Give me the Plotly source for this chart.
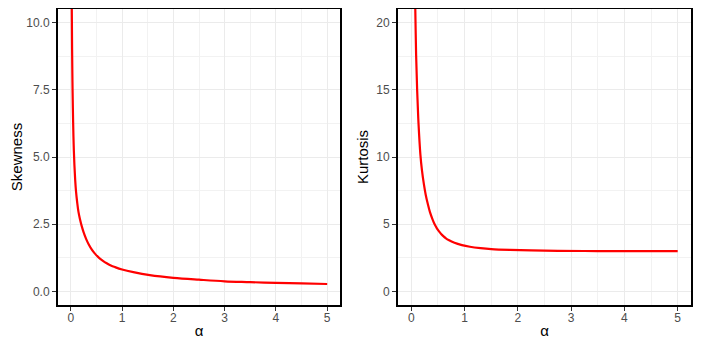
import plotly.graph_objects as go
from plotly.subplots import make_subplots

# values
alpha_skew = [0.01, 0.02, 0.025, 0.03, 0.035, 0.045, 0.055, 0.07, 0.085, 0.1, 0.125, 0.15,
              0.18, 0.21, 0.25, 0.3, 0.35, 0.41, 0.47, 0.54, 0.62, 0.7, 0.78, 0.86, 1.0,
              1.22, 1.54, 2.0, 2.5, 3.0, 3.5, 4.0, 4.5, 5.0]
skewness = [13.0, 10.3, 9.0, 8.1, 7.4, 6.3, 5.5, 4.7, 4.15, 3.75, 3.3, 2.95,
            2.68, 2.45, 2.2, 1.95, 1.75, 1.56, 1.41, 1.27, 1.15, 1.05, 0.97, 0.91, 0.82,
            0.72, 0.61, 0.51, 0.44, 0.38, 0.35, 0.32, 0.30, 0.28]

alpha_kurt = [0.06, 0.075, 0.09, 0.11, 0.135, 0.17, 0.2, 0.235, 0.27, 0.31, 0.35, 0.4,
              0.44, 0.48, 0.52, 0.56, 0.6, 0.65, 0.7, 0.81, 0.95, 1.1, 1.3, 1.5, 1.85,
              2.25, 2.75, 3.5, 4.25, 5.0]
kurtosis = [24.0, 20.9, 17.6, 14.9, 12.5, 10.2, 9.0, 8.0, 7.2, 6.5, 5.9, 5.35,
            4.98, 4.7, 4.47, 4.28, 4.12, 3.96, 3.83, 3.62, 3.45, 3.33, 3.23, 3.16, 3.10,
            3.06, 3.03, 3.01, 3.0, 3.0]

x_ticks = [0, 1, 2, 3, 4, 5]
skew_ticks = [0.0, 2.5, 5.0, 7.5, 10.0]
skew_labels = ["0.0", "2.5", "5.0", "7.5", "10.0"]
kurt_ticks = [0, 5, 10, 15, 20]

# page body has an 8px margin, so the figure starts at (8, 8) in the window
OFF = 8
W, H = 705 - OFF, 347 - OFF
def dx(px):
    return (px - OFF) / W
def dy(py):
    return 1 - (py - OFF) / H

fig = make_subplots(rows=1, cols=2)

fig.add_trace(go.Scatter(x=alpha_skew, y=skewness, mode="lines", line_shape="spline",
                         line=dict(color="#FF0000", width=2.2), showlegend=False), row=1, col=1)
fig.add_trace(go.Scatter(x=alpha_kurt, y=kurtosis, mode="lines", line_shape="spline",
                         line=dict(color="#FF0000", width=2.2), showlegend=False), row=1, col=2)

tickfont = dict(family="Liberation Sans, Arial", size=12, color="#4D4D4D")
titlefont = dict(family="Liberation Sans, Arial", size=15, color="black")

common = dict(showline=True, mirror=True, linecolor="black", linewidth=2,
              showgrid=True, gridcolor="#EBEBEB", gridwidth=1,
              ticks="outside", ticklen=4, tickcolor="#333333", tickwidth=1,
              tickfont=tickfont, zeroline=False, automargin=False)

fig.update_xaxes(range=[-0.25, 5.25], tickvals=x_ticks, ticklabelstandoff=-3,
                 minor=dict(dtick=0.5, showgrid=True, gridcolor="#F2F2F2", gridwidth=0.6, ticks=""),
                 title=dict(text="α", font=titlefont, standoff=1), **common)
fig.update_yaxes(**common)

fig.update_xaxes(domain=[dx(58), dx(340)], row=1, col=1)
fig.update_xaxes(domain=[dx(398), dx(691)], row=1, col=2)

fig.update_yaxes(range=[-0.5, 10.5], tickvals=skew_ticks, ticktext=skew_labels,
                 minor=dict(dtick=1.25, showgrid=True, gridcolor="#F2F2F2", gridwidth=0.6, ticks=""),
                 title=dict(text="Skewness", font=titlefont, standoff=8),
                 domain=[dy(305), dy(9)], row=1, col=1)
fig.update_yaxes(range=[-1, 21], tickvals=kurt_ticks,
                 minor=dict(dtick=2.5, showgrid=True, gridcolor="#F2F2F2", gridwidth=0.6, ticks=""),
                 title=dict(text="Kurtosis", font=titlefont, standoff=4),
                 domain=[dy(305), dy(9)], row=1, col=2)

fig.update_layout(width=W, height=H, margin=dict(l=0, r=0, t=0, b=0),
                  paper_bgcolor="white", plot_bgcolor="white")

fig.write_html("out.html")
